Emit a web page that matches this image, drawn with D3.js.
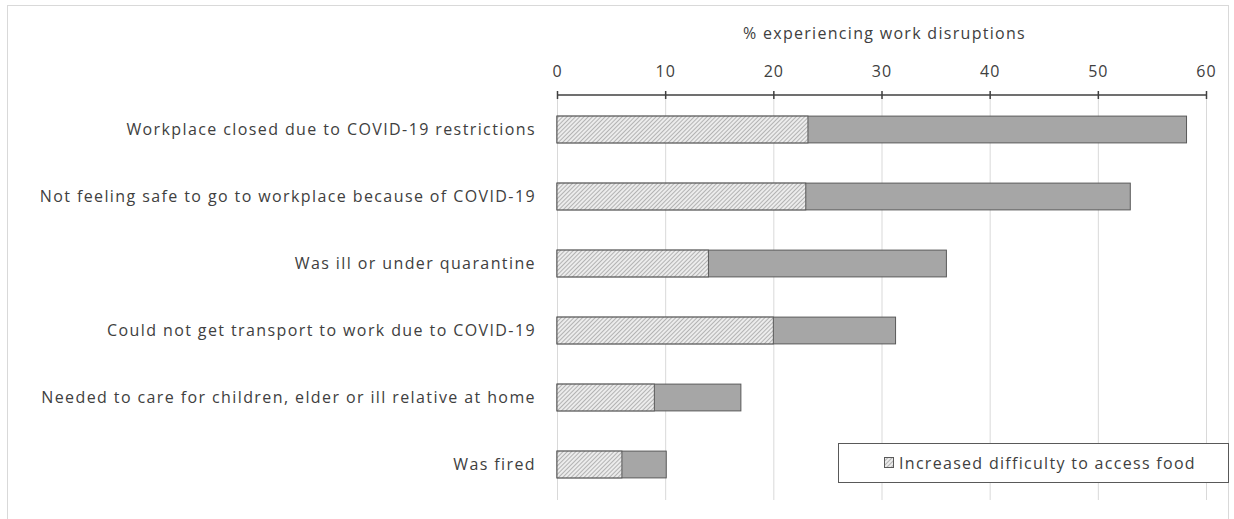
<!DOCTYPE html>
<html><head><meta charset="utf-8">
<script src="https://cdn.jsdelivr.net/npm/d3@7/dist/d3.min.js"></script>
<style>body{margin:0;background:#fff}svg text{font-family:"Open Sans",sans-serif;fill:#404040}</style>
</head><body><svg id="c" width="1234" height="519"></svg>
<script>
const categories = [
  "Workplace closed due to COVID-19 restrictions",
  "Not feeling safe to go to workplace because of COVID-19",
  "Was ill or under quarantine ",
  "Could not get transport to work due to COVID-19",
  "Needed to care for children, elder or ill relative at home",
  "Was fired"
];
const foodDifficulty = [23.2, 23.0, 14.0, 20.0, 9.0, 6.0];
const totalDisruption = [58.2, 53.0, 36.0, 31.3, 17.0, 10.1];
const xTicks = [0, 10, 20, 30, 40, 50, 60];
const axisTitle = "% experiencing work disruptions";
const legendLabel = "Increased difficulty to access food";

const svg = d3.select("#c");
const defs = svg.append("defs");
const pat = defs.append("pattern").attr("id","hatch").attr("patternUnits","userSpaceOnUse")
  .attr("width",3).attr("height",3).attr("patternTransform","rotate(45)");
pat.append("rect").attr("width",3).attr("height",3).attr("fill","#ececec");
pat.append("line").attr("x1",0).attr("y1",0).attr("x2",0).attr("y2",3).attr("stroke","#8c8c8c").attr("stroke-width",1.2);

// outer border
svg.append("rect").attr("x",7.5).attr("y",5.5).attr("width",1221).attr("height",520).attr("fill","none").attr("stroke","#d9d9d9");

const x = d3.scaleLinear().domain([0,60]).range([557,1206]);
const y = d3.scaleBand().domain(categories).range([96,498]).paddingInner(0.6).paddingOuter(0.3);

// gridlines
svg.append("g").selectAll("line").data(xTicks).join("line")
  .attr("x1",d=>x(d)+0.5).attr("x2",d=>x(d)+0.5).attr("y1",95).attr("y2",500)
  .attr("stroke","#d9d9d9").attr("stroke-width",1);

// bars total
const g = svg.append("g");
g.selectAll("rect.tot").data(categories).join("rect").attr("class","tot")
  .attr("x",x(0)).attr("y",d=>y(d)).attr("height",y.bandwidth())
  .attr("width",(d,i)=>x(totalDisruption[i])-x(0))
  .attr("fill","#a6a6a6").attr("stroke","#595959").attr("stroke-width",1);
g.selectAll("rect.food").data(categories).join("rect").attr("class","food")
  .attr("x",x(0)).attr("y",d=>y(d)).attr("height",y.bandwidth())
  .attr("width",(d,i)=>x(foodDifficulty[i])-x(0))
  .attr("fill","url(#hatch)").attr("stroke","#595959").attr("stroke-width",1);

// top axis
const ax = svg.append("g").attr("transform","translate(0,95)")
  .call(d3.axisTop(x).tickValues(xTicks).tickSize(4).tickPadding(14));
ax.select(".domain").attr("stroke","#404040").attr("stroke-width",1.5).attr("d","M557,0H1206");
ax.selectAll(".tick line").attr("y1",4).attr("y2",-4).attr("stroke","#404040").attr("stroke-width",1.5);
ax.selectAll(".tick text").attr("font-size",16).style("font-family","'Open Sans',sans-serif")
  .style("letter-spacing","1px").attr("fill","#404040");

svg.append("text").attr("x",x(30)+3).attr("y",39).attr("text-anchor","middle").attr("font-size",16)
  .style("letter-spacing","1.3px").text(axisTitle);

// category labels
svg.append("g").selectAll("text").data(categories).join("text")
  .attr("x",536).attr("y",d=>y(d)+y.bandwidth()/2).attr("dy","0.35em")
  .attr("text-anchor","end").attr("font-size",16).style("letter-spacing","1.4px").text(d=>d);

// legend
const lg = svg.append("g");
lg.append("rect").attr("x",838.5).attr("y",443.5).attr("width",390).attr("height",39).attr("fill","#fff").attr("stroke","#595959");
lg.append("rect").attr("x",884.5).attr("y",457.5).attr("width",9).attr("height",10).attr("fill","url(#hatch)").attr("stroke","#595959");
lg.append("text").attr("x",899).attr("y",463).attr("dy","0.35em").attr("font-size",16)
  .style("letter-spacing","1.3px").text(legendLabel);
</script></body></html>
